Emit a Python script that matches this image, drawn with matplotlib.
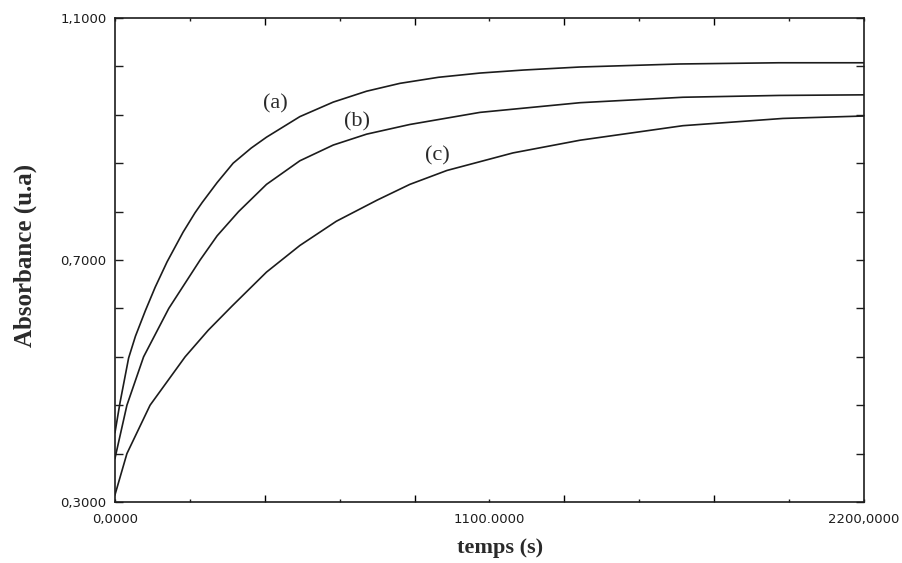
import numpy as np
import matplotlib
matplotlib.use("Agg")
import matplotlib.pyplot as plt

# temps (s) / absorbance
t_a = [0, 15, 40, 60, 89, 118, 153, 200, 235, 256, 300, 347, 400, 445, 543, 641,
       739, 837, 950, 1072, 1200, 1366, 1659, 1950, 2200]
abs_a = [0.415, 0.465, 0.538, 0.574, 0.616, 0.655, 0.697, 0.746, 0.778, 0.795, 0.828,
         0.860, 0.885, 0.903, 0.937, 0.961, 0.979, 0.992, 1.002, 1.009, 1.014, 1.019,
         1.024, 1.026, 1.026]

t_b = [0, 3, 35, 84, 158, 250, 300, 363, 445, 543, 641, 739, 866, 1072, 1366, 1668,
       1950, 2200]
abs_b = [0.372, 0.380, 0.460, 0.540, 0.620, 0.700, 0.740, 0.780, 0.825, 0.864, 0.890,
         0.908, 0.924, 0.944, 0.960, 0.969, 0.972, 0.973]

t_c = [0, 35, 103, 206, 274, 344, 445, 543, 650, 770, 866, 975, 1169, 1366, 1668,
       1962, 2200]
abs_c = [0.312, 0.380, 0.460, 0.540, 0.584, 0.624, 0.680, 0.724, 0.764, 0.799, 0.825,
         0.848, 0.877, 0.898, 0.922, 0.934, 0.938]

curve_names = ["(a)", "(b)", "(c)"]
name_pos = [(470, 0.958), (711, 0.929), (946, 0.872)]

y_ticks = np.arange(0.3, 1.1001, 0.08)
y_labels = ["0,3000", "", "", "", "", "0,7000", "", "", "", "", "1,1000"]
x_small = [0, 220, 660, 1100, 1540, 1980, 2200]
x_small_labels = ["0,0000", "", "", "1100.0000", "", "", "2200,0000"]
x_long = [440, 880, 1320, 1760]

fig = plt.figure(figsize=(9.02, 5.63), dpi=100)
ax = fig.add_axes([115/902, 61/563, 749/902, 484/563])

ink = "#1c1c1c"
for t, v in [(t_a, abs_a), (t_b, abs_b), (t_c, abs_c)]:
    ax.plot(t, v, color=ink, lw=1.2)

for name, (tx, ty) in zip(curve_names, name_pos):
    ax.text(tx, ty, name, fontsize=16, family="Liberation Serif",
            ha="center", va="center", color="#2a2a2a")

ax.set_xlim(0, 2200)
ax.set_ylim(0.3, 1.1)

ax.set_yticks(y_ticks)
ax.set_yticklabels(y_labels)
ax.set_xticks(x_small)
ax.set_xticklabels(x_small_labels)
ax.set_xticks(x_long, minor=True)

ax.tick_params(axis="y", which="major", direction="in", length=6, width=1,
               left=True, right=True, labelsize=9.5, pad=6, colors=ink)
ax.tick_params(axis="x", which="major", direction="in", length=2.5, width=1,
               bottom=True, top=True, labelsize=9.5, pad=8, colors=ink)
ax.tick_params(axis="x", which="minor", direction="in", length=5, width=1,
               bottom=True, top=True)

for s in ax.spines.values():
    s.set_linewidth(1.2)
    s.set_color(ink)

ax.set_xlabel("temps (s)", fontsize=16, fontweight="bold",
              family="Liberation Serif", color="#2a2a2a")
ax.xaxis.set_label_coords(0.514, -0.075)
ax.set_ylabel("Absorbance (u.a)", fontsize=18, fontweight="bold",
              family="Liberation Serif", color="#2a2a2a")
ax.yaxis.set_label_coords(-0.104, 0.51)

fig.savefig("out.png", dpi=100)
